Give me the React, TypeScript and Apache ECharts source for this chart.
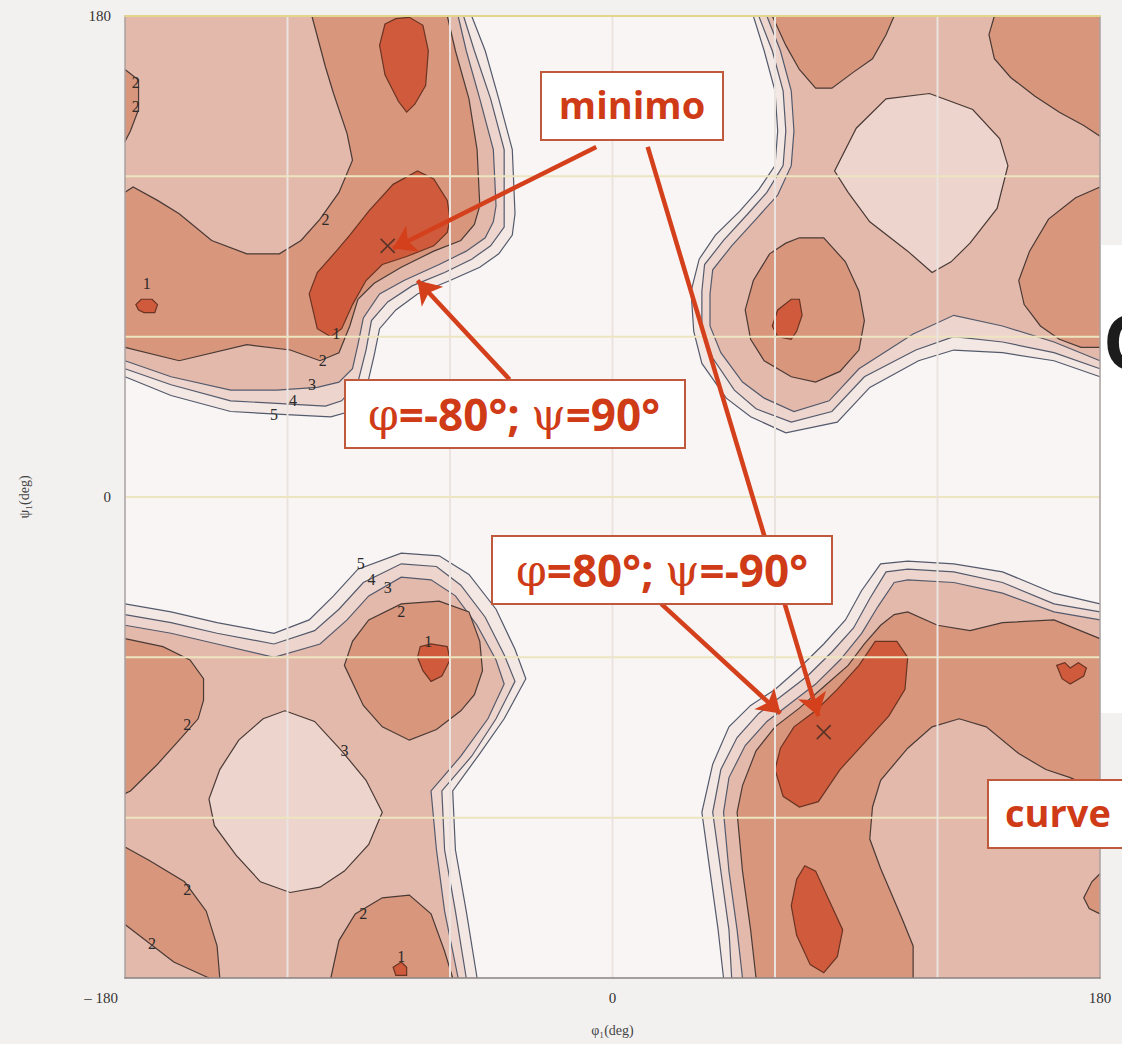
import React, { useEffect, useRef } from "react";
import * as echarts from "echarts";

// ---------- axis ticks ----------
const xTickLabels = [-180, 0, 180];
const yTickLabels = [0, 180];
const gridTicks = [-120, -60, 0, 60, 120];

// ---------- contour lines / regions (phi, psi in degrees) ----------
// top-left quadrant
const TL_L5 = [[-180,45],[-163,38],[-141,32],[-124,31],[-104,30],[-97,32],[-91,40],[-88,53],[-86,63],[-80,70],[-72,76],[-60,81],[-49,86],[-42,91],[-37,98],[-36,106],[-37,130],[-42,149],[-47,167],[-52,180]];
const TL_L4 = [[-180,48],[-163,42],[-141,36],[-124,35],[-106,34],[-100,36],[-94,43],[-91,55],[-89,66],[-83,73],[-74,79],[-62,84],[-52,89],[-45,94],[-40,101],[-40,107],[-40,130],[-45,149],[-51,167],[-55,180]];
const TL_L3 = [[-180,51],[-163,45],[-141,40],[-124,40],[-109,41],[-101,43],[-96,48],[-94,57],[-92,67],[-86,76],[-77,81],[-64,87],[-54,92],[-47,97],[-44,103],[-43,109],[-44,130],[-49,149],[-54,167],[-57,180]];
const TL_L2 = [[-180,56],[-160,51],[-135,57],[-119,55],[-108,51],[-101,54],[-97,64],[-94,74],[-88,80],[-78,86],[-66,92],[-56,96],[-51,102],[-49,109],[-50,130],[-53,149],[-58,167],[-61,180]];
const TL_LIGHT = [[-111,180],[-106,161],[-103,151],[-98,136],[-96,126],[-101,114],[-108,104],[-115,96],[-123,91],[-135,91],[-148,96],[-160,106],[-168,111],[-177,116],[-180,114]];
const TL_BUMP = [[-180,160],[-175,156],[-175,145],[-178,137],[-180,133]];
const TL_DARK = [[-112,76],[-109,84],[-102,92],[-97,98],[-90,107],[-81,117],[-72,122],[-66,119],[-61,111],[-60,104],[-61,99],[-66,94],[-76,90],[-85,87],[-91,81],[-96,72],[-100,63],[-104,60],[-109,63]];
const TL_TOPDARK = [[-84,177],[-80,179],[-75,179.5],[-70,176.5],[-68,167],[-69,154],[-73,147],[-76,144],[-79,148],[-84,158],[-86,169]];
const TL_DOT = [[-176,72],[-174,74],[-170,74],[-168,72],[-169,69],[-173,69],[-175,70]];

// top-right quadrant
const TR_L5 = [[52,180],[56,167],[60,152],[61,137],[60,124],[54,115],[47,107],[38,98],[32,89],[29,77],[30,62],[33,50],[42,37],[51,30],[64,24],[83,28],[95,41],[113,51],[126,55],[144,54],[163,51],[180,45]];
const TR_L4 = [[54,180],[59,167],[63,152],[64,137],[63,124],[57,114],[50,106],[41,96],[34,87],[33,77],[33,63],[37,52],[45,40],[53,33],[66,28],[81,32],[93,45],[112,55],[126,60],[144,58],[163,54],[180,48]];
const TR_L3 = [[57,180],[62,167],[66,152],[67,137],[66,124],[61,113],[53,104],[44,94],[37,85],[36,76],[36,64],[40,54],[48,43],[56,37],[67,32],[80,36],[91,48],[111,61],[126,68],[144,64],[163,58],[180,51]];
const TR_LOBE_TL = [[59,180],[64,169],[69,160],[75,153],[81,153],[89,159],[96,164],[101,173],[104,180]];
const TR_LOBE_TR = [[141,180],[139,173],[141,164],[147,157],[156,150],[165,144],[174,139],[180,135]];
const TR_LOBE_R = [[180,116],[171,112],[161,104],[154,92],[150,81],[152,72],[158,64],[165,59],[173,56],[180,56]];
const TR_LOBE_BL = [[69,97],[78,97],[86,88],[91,77],[93,66],[91,55],[84,47],[75,43],[66,45],[56,51],[51,59],[49,70],[52,81],[58,91],[64,95]];
const TR_DIAMOND = [[117,151],[133,145],[143,134],[146,124],[142,108],[132,95],[125,88],[118,84],[109,92],[95,103],[87,114],[82,122],[90,138],[101,149]];
const TR_DARK = [[66,74],[69,74],[70,68],[68,62],[66,59],[61,60],[59,64],[61,70]];

// bottom-right quadrant
const BR_L5 = [[180,-40],[163,-36],[144,-28],[126,-25],[109,-24],[99,-25],[92,-35],[86,-46],[78,-55],[69,-64],[60,-72],[51,-78],[43,-86],[37,-100],[33,-118],[36,-140],[39,-162],[41,-180]];
const BR_L4 = [[180,-43],[163,-40],[144,-32],[126,-28],[109,-27],[101,-28],[95,-38],[89,-49],[81,-58],[72,-67],[63,-74],[54,-81],[46,-90],[40,-102],[37,-118],[40,-140],[43,-162],[44,-180]];
const BR_L3 = [[180,-46],[163,-43],[144,-36],[126,-32],[109,-31],[104,-32],[98,-41],[92,-51],[84,-61],[75,-70],[66,-77],[57,-84],[49,-93],[43,-105],[41,-118],[43,-140],[46,-162],[48,-180]];
const BR_L2 = [[180,-53],[163,-46],[144,-47],[132,-50],[120,-48],[109,-43],[104,-44],[99,-48],[93,-55],[87,-63],[78,-71],[69,-79],[60,-86],[53,-95],[48,-108],[46,-118],[48,-140],[51,-162],[53,-180]];
const BR_LIGHT = [[111,-180],[111,-168],[107,-158],[99,-139],[95,-128],[96,-116],[99,-106],[109,-94],[118,-86],[128,-83],[138,-86],[150,-96],[160,-102],[169,-105],[180,-110]];
const BR_BUMP = [[180,-141],[177,-144],[174,-150],[176,-154],[180,-156]];
const BR_DARK = [[97,-54],[105,-54],[109,-60],[108,-72],[102,-82],[93,-92],[84,-102],[76,-114],[69,-116],[63,-112],[60,-102],[62,-94],[67,-86],[75,-80],[83,-72],[91,-63]];
const BR_DARK2 = [[71,-138],[75,-140],[80,-151],[85,-162],[83,-172],[78,-178],[73,-175],[68,-164],[66,-153],[68,-143]];
const BR_DOT = [[164,-63],[167,-62],[169,-64],[172,-62],[175,-64],[174,-67],[169,-70],[166,-68]];

// bottom-left quadrant
const BL_L5 = [[-180,-40],[-163,-43],[-146,-47],[-125,-51],[-112,-46],[-103,-37],[-94,-27],[-78,-21],[-64,-22],[-53,-29],[-43,-42],[-36,-57],[-32,-68],[-40,-83],[-49,-96],[-59,-110],[-58,-132],[-54,-155],[-50,-180]];
const BL_L4 = [[-180,-44],[-163,-47],[-146,-51],[-125,-55],[-110,-50],[-101,-42],[-92,-32],[-78,-25],[-65,-26],[-56,-33],[-47,-45],[-40,-59],[-36,-69],[-43,-83],[-52,-97],[-63,-110],[-62,-132],[-58,-155],[-54,-180]];
const BL_L3 = [[-180,-48],[-163,-51],[-146,-55],[-125,-60],[-108,-55],[-98,-46],[-90,-37],[-78,-30],[-67,-31],[-58,-37],[-50,-48],[-43,-61],[-40,-70],[-46,-83],[-56,-97],[-67,-110],[-65,-132],[-62,-155],[-57,-180]];
const BL_LOBE_L = [[-180,-53],[-166,-56],[-156,-61],[-151,-68],[-151,-76],[-153,-83],[-160,-91],[-168,-100],[-178,-110],[-180,-111]];
const BL_LOBE_UR = [[-99,-63],[-96,-54],[-90,-46],[-78,-40],[-64,-39],[-53,-43],[-49,-54],[-48,-65],[-51,-74],[-56,-80],[-65,-87],[-75,-91],[-85,-86],[-92,-78]];
const BL_LOBE_BL = [[-180,-131],[-171,-136],[-158,-144],[-150,-155],[-146,-168],[-145,-180]];
const BL_CORNER = [[-180,-160],[-171,-167],[-162,-174],[-149,-180]];
const BL_LOBE_B = [[-104,-180],[-101,-166],[-95,-156],[-85,-150],[-75,-149],[-67,-156],[-62,-170],[-59,-180]];
const BL_DIAMOND = [[-121,-80],[-110,-84],[-100,-95],[-91,-106],[-85,-118],[-90,-130],[-99,-140],[-108,-146],[-119,-148],[-130,-144],[-139,-134],[-147,-123],[-149,-113],[-145,-102],[-138,-91],[-129,-83]];
const BL_DOT1 = [[-71,-56],[-67,-55],[-61,-56],[-60,-61],[-63,-67],[-67,-69],[-70,-65],[-72,-60]];
const BL_DOT2 = [[-81,-176],[-78,-174],[-76,-176],[-76,-179],[-80,-179]];

// contour level labels
const LABEL_TEXT = ["2","2","1","2","1","2","3","4","5","5","4","3","2","1","2","3","2","2","2","1"];
const LABEL_POS = [[-176,155],[-176,146],[-172,80],[-106,104],[-102,61],[-107,51],[-111,42],[-118,36],[-125,31],[-93,-25],[-89,-31],[-83,-34],[-78,-43],[-68,-54],[-157,-85],[-99,-95],[-157,-147],[-170,-167],[-92,-156],[-78,-172]];

// minima (crosses) and annotation arrows
const MINIMA = [[-83,94],[78,-88]];
const ARROWS = [
  [[-6,131],[-81,93]],
  [[13,131],[76,-82]],
  [[-38,44],[-72,81]],
  [[18,-40],[62,-81]],
];

// ---------- styles ----------
const C45 = "#f4e8e4";
const C34 = "#edd5ce";
const C23 = "#e3b9ab";
const C12 = "#d8967d";
const C01 = "#cf5a3c";
const LINE_HI = "#545a6c";
const LINE_LO = "#4a3a36";
const LINE_DK = "#6a3424";
const RED = "#cf3b17";
const BOX = "#c0583c";

const TLc = [[-180,180]], TRc = [[180,180]], BRc = [[180,-180]], BLc = [[-180,-180]];
const EDGE: number[][] = [];

const REGIONS = [
  { pts: TL_L5, close: TLc, fill: C45, stroke: LINE_HI },
  { pts: TL_L4, close: TLc, fill: C34, stroke: LINE_HI },
  { pts: TL_L3, close: TLc, fill: C23, stroke: LINE_HI },
  { pts: TL_L2, close: TLc, fill: C12, stroke: LINE_LO },
  { pts: TL_LIGHT, close: TLc, fill: C23, stroke: LINE_LO },
  { pts: TL_BUMP, close: EDGE, fill: C12, stroke: LINE_LO },
  { pts: TL_DARK, fill: C01, stroke: LINE_DK },
  { pts: TL_TOPDARK, fill: C01, stroke: LINE_DK },
  { pts: TL_DOT, fill: C01, stroke: LINE_DK },

  { pts: TR_L5, close: TRc, fill: C45, stroke: LINE_HI },
  { pts: TR_L4, close: TRc, fill: C34, stroke: LINE_HI },
  { pts: TR_L3, close: TRc, fill: C23, stroke: LINE_HI },
  { pts: TR_LOBE_TL, close: EDGE, fill: C12, stroke: LINE_LO },
  { pts: TR_LOBE_TR, close: TRc, fill: C12, stroke: LINE_LO },
  { pts: TR_LOBE_R, close: EDGE, fill: C12, stroke: LINE_LO },
  { pts: TR_LOBE_BL, fill: C12, stroke: LINE_LO },
  { pts: TR_DIAMOND, fill: C34, stroke: LINE_LO },
  { pts: TR_DARK, fill: C01, stroke: LINE_DK },

  { pts: BR_L5, close: BRc, fill: C45, stroke: LINE_HI },
  { pts: BR_L4, close: BRc, fill: C34, stroke: LINE_HI },
  { pts: BR_L3, close: BRc, fill: C23, stroke: LINE_HI },
  { pts: BR_L2, close: BRc, fill: C12, stroke: LINE_LO },
  { pts: BR_LIGHT, close: BRc, fill: C23, stroke: LINE_LO },
  { pts: BR_BUMP, close: EDGE, fill: C12, stroke: LINE_LO },
  { pts: BR_DARK, fill: C01, stroke: LINE_DK },
  { pts: BR_DARK2, fill: C01, stroke: LINE_DK },
  { pts: BR_DOT, fill: C01, stroke: LINE_DK },

  { pts: BL_L5, close: BLc, fill: C45, stroke: LINE_HI },
  { pts: BL_L4, close: BLc, fill: C34, stroke: LINE_HI },
  { pts: BL_L3, close: BLc, fill: C23, stroke: LINE_HI },
  { pts: BL_LOBE_L, close: EDGE, fill: C12, stroke: LINE_LO },
  { pts: BL_LOBE_UR, fill: C12, stroke: LINE_LO },
  { pts: BL_LOBE_BL, close: BLc, fill: C12, stroke: LINE_LO },
  { pts: BL_CORNER, close: BLc, fill: C23, stroke: LINE_LO },
  { pts: BL_LOBE_B, close: EDGE, fill: C12, stroke: LINE_LO },
  { pts: BL_DIAMOND, fill: C34, stroke: LINE_LO },
  { pts: BL_DOT1, fill: C01, stroke: LINE_DK },
  { pts: BL_DOT2, fill: C01, stroke: LINE_DK },
];

const serif = '"Liberation Serif", "DejaVu Serif", serif';
const sans = '"Open Sans", "DejaVu Sans", sans-serif';

function buildOption() {
  const fmtX = (v: number) =>
    xTickLabels.indexOf(v) >= 0 ? (v < 0 ? "{p|\u2013 " + Math.abs(v) + "}" : String(v)) : "";
  const fmtY = (v: number) => (yTickLabels.indexOf(v) >= 0 ? String(v) : "");
  return {
    animation: false,
    backgroundColor: "#f3f1f0",
    grid: { left: 125, right: 22, top: 16, bottom: 66, show: true, backgroundColor: "#f8f5f4", borderWidth: 0 },
    xAxis: [
      {
        type: "value", min: -180, max: 180, interval: 60, position: "bottom", z: 6,
        axisLine: { show: true, onZero: false, lineStyle: { color: "#8a8282", width: 1.5 } },
        axisTick: { show: false },
        splitLine: { show: false },
        axisLabel: {
          margin: 12, fontFamily: serif, fontSize: 15, color: "#333", formatter: fmtX, alignMinLabel: "right",
          rich: { p: { fontFamily: serif, fontSize: 15, color: "#333", padding: [0, 7, 0, 0] } },
        },
        name: "\u03c6\u2081(deg)", nameLocation: "middle", nameGap: 45,
        nameTextStyle: { fontFamily: serif, fontSize: 14, color: "#444" },
      },
      {
        type: "value", min: -180, max: 180, position: "top", z: 6,
        axisLine: { show: true, onZero: false, lineStyle: { color: "#e2d68e", width: 2 } },
        axisTick: { show: false }, axisLabel: { show: false }, splitLine: { show: false },
      },
    ],
    yAxis: [
      {
        type: "value", min: -180, max: 180, interval: 60, position: "left", z: 6,
        axisLine: { show: true, onZero: false, lineStyle: { color: "#aaa0a0", width: 1.5 } },
        axisTick: { show: false },
        splitLine: { show: false },
        axisLabel: { margin: 14, fontFamily: serif, fontSize: 15, color: "#333", formatter: fmtY },
        name: "\u03c8\u2081(deg)", nameLocation: "middle", nameGap: 94, nameRotate: 90,
        nameTextStyle: { fontFamily: serif, fontSize: 14, color: "#444" },
      },
      {
        type: "value", min: -180, max: 180, position: "right", z: 6,
        axisLine: { show: true, onZero: false, lineStyle: { color: "#a8a0a0", width: 1.5 } },
        axisTick: { show: false }, axisLabel: { show: false }, splitLine: { show: false },
      },
    ],
    series: [
      {
        type: "custom", name: "regions", coordinateSystem: "cartesian2d", clip: false, silent: true, z: 2,
        data: REGIONS.map((_, i) => [0, 0, i]),
        renderItem: (params: any, api: any) => {
          const r: any = REGIONS[params.dataIndex];
          const line = r.pts.map((p: number[]) => api.coord(p));
          const fillPts = r.close ? line.concat(r.close.map((p: number[]) => api.coord(p))) : line;
          const children: any[] = [
            { type: "polygon", shape: { points: fillPts }, style: { fill: r.fill, stroke: r.close ? "none" : r.stroke, lineWidth: 1.2 } },
          ];
          if (r.close) {
            children.push({ type: "polyline", shape: { points: line }, style: { fill: "none", stroke: r.stroke, lineWidth: 1.2 } });
          }
          return { type: "group", children };
        },
      },
      {
        type: "custom", name: "grid", coordinateSystem: "cartesian2d", clip: false, silent: true, z: 3,
        data: gridTicks.map((v) => [v, v]),
        renderItem: (params: any, api: any) => {
          const v = gridTicks[params.dataIndex];
          const a = api.coord([v, -180]), b = api.coord([v, 180]);
          const c = api.coord([-180, v]), d = api.coord([180, v]);
          return {
            type: "group",
            children: [
              { type: "line", shape: { x1: a[0], y1: a[1], x2: b[0], y2: b[1] }, style: { stroke: "#ebe3df", lineWidth: 2 } },
              { type: "line", shape: { x1: c[0], y1: c[1], x2: d[0], y2: d[1] }, style: { stroke: "#ede5c0", lineWidth: 2 } },
            ],
          };
        },
      },
      {
        type: "custom", name: "levels", coordinateSystem: "cartesian2d", clip: false, silent: true, z: 4,
        data: LABEL_POS.map((p) => [p[0], p[1]]),
        renderItem: (params: any, api: any) => {
          const p = api.coord(LABEL_POS[params.dataIndex]);
          return {
            type: "text", x: p[0], y: p[1],
            style: { text: LABEL_TEXT[params.dataIndex], fill: "#2b2b2b", font: "16px " + serif, align: "center", verticalAlign: "middle", textAlign: "center", textVerticalAlign: "middle" },
          };
        },
      },
      {
        type: "custom", name: "minima", coordinateSystem: "cartesian2d", clip: false, silent: true, z: 4,
        data: MINIMA.map((p) => [p[0], p[1]]),
        renderItem: (params: any, api: any) => {
          const p = api.coord(MINIMA[params.dataIndex]);
          const s = 7;
          const st = { stroke: "#5a3428", lineWidth: 1.6 };
          return {
            type: "group",
            children: [
              { type: "line", shape: { x1: p[0] - s, y1: p[1] - s, x2: p[0] + s, y2: p[1] + s }, style: st },
              { type: "line", shape: { x1: p[0] - s, y1: p[1] + s, x2: p[0] + s, y2: p[1] - s }, style: st },
            ],
          };
        },
      },
      {
        type: "lines", name: "arrows", coordinateSystem: "cartesian2d", z: 5, silent: true,
        symbol: ["none", "arrow"], symbolSize: 22,
        lineStyle: { color: "#d4401c", width: 4.5, opacity: 1, curveness: 0 },
        data: ARROWS.map((a) => ({ coords: a })),
      },
    ],
    graphic: [
      { type: "rect", z: 100, shape: { x: 541, y: 72, width: 182, height: 68 }, style: { fill: "#ffffff", stroke: BOX, lineWidth: 2 } },
      { type: "text", z: 101, x: 632, y: 104, style: { text: "minimo", font: "bold 38px " + sans, fill: RED, align: "center", verticalAlign: "middle" } },

      { type: "rect", z: 100, shape: { x: 345, y: 380, width: 340, height: 68 }, style: { fill: "#ffffff", stroke: BOX, lineWidth: 2 } },
      {
        type: "text", z: 101, x: 514, y: 414,
        style: {
          text: "{g|\u03c6}=-80\u00b0; {g|\u03c8}=90\u00b0", font: "bold 44px " + sans, fill: RED, align: "center", verticalAlign: "middle",
          rich: { g: { fontFamily: '"DejaVu Serif", serif', fontWeight: "normal", fontSize: 44, fill: RED } },
        },
      },

      { type: "rect", z: 100, shape: { x: 492, y: 536, width: 340, height: 68 }, style: { fill: "#ffffff", stroke: BOX, lineWidth: 2 } },
      {
        type: "text", z: 101, x: 662, y: 570,
        style: {
          text: "{g|\u03c6}=80\u00b0; {g|\u03c8}=-90\u00b0", font: "bold 44px " + sans, fill: RED, align: "center", verticalAlign: "middle",
          rich: { g: { fontFamily: '"DejaVu Serif", serif', fontWeight: "normal", fontSize: 44, fill: RED } },
        },
      },

      { type: "rect", z: 100, shape: { x: 988, y: 780, width: 150, height: 68 }, style: { fill: "#ffffff", stroke: BOX, lineWidth: 2 } },
      { type: "text", z: 101, x: 1005, y: 812, style: { text: "curve", font: "bold 38px " + sans, fill: RED, align: "left", verticalAlign: "middle" } },

      { type: "rect", z: 99, shape: { x: 1101, y: 245, width: 21, height: 468 }, style: { fill: "#ffffff" } },
      { type: "text", z: 101, x: 1104, y: 342, style: { text: "C", font: 'bold 80px "Liberation Sans", sans-serif', fill: "#1c1c1c", align: "left", verticalAlign: "middle" } },
    ],
  };
}

export default function App() {
  const ref = useRef<HTMLDivElement>(null);
  useEffect(() => {
    document.body.style.margin = "0";
    const chart = echarts.init(ref.current as HTMLDivElement, null, { renderer: "svg" });
    chart.setOption(buildOption() as any);
    return () => chart.dispose();
  }, []);
  return <div ref={ref} style={{ width: 1122, height: 1044 }} />;
}
